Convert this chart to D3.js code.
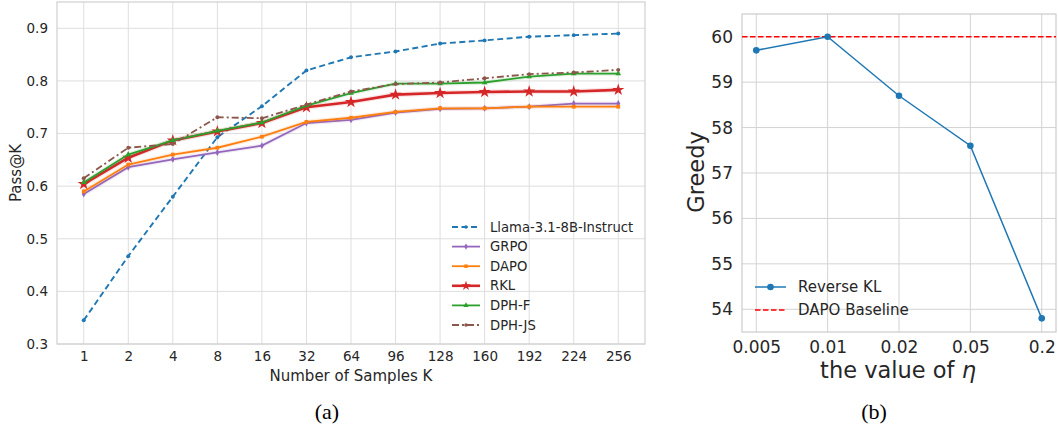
<!DOCTYPE html>
<html>
<head>
<meta charset="utf-8">
<script src="https://cdn.jsdelivr.net/npm/d3@7"></script>
<style>
  body { margin: 0; background: #fff; }
  svg { display: block; font-family: "DejaVu Sans", sans-serif; }
</style>
</head>
<body>
<div id="chart"></div>
<script>
// ---- data, panel (a) ----
var kLabels = ["1", "2", "4", "8", "16", "32", "64", "96", "128", "160", "192", "224", "256"];
var llama  = [0.345, 0.467, 0.580, 0.693, 0.752, 0.820, 0.845, 0.856, 0.871, 0.877, 0.884, 0.887, 0.890];
var grpo   = [0.585, 0.636, 0.651, 0.664, 0.677, 0.720, 0.726, 0.740, 0.747, 0.748, 0.751, 0.757, 0.757];
var dapo   = [0.590, 0.641, 0.660, 0.673, 0.694, 0.722, 0.730, 0.741, 0.748, 0.748, 0.751, 0.751, 0.751];
var rkl    = [0.604, 0.654, 0.687, 0.704, 0.720, 0.750, 0.760, 0.774, 0.777, 0.779, 0.780, 0.780, 0.783];
var dphF   = [0.607, 0.660, 0.687, 0.705, 0.721, 0.753, 0.777, 0.795, 0.795, 0.797, 0.808, 0.814, 0.814];
var dphJS  = [0.615, 0.673, 0.680, 0.731, 0.729, 0.755, 0.780, 0.794, 0.797, 0.805, 0.813, 0.816, 0.821];
var passTicks = [0.3, 0.4, 0.5, 0.6, 0.7, 0.8, 0.9];

// ---- data, panel (b) ----
var etaLabels = ["0.005", "0.01", "0.02", "0.05", "0.2"];
var reverseKL = [59.7, 60.0, 58.7, 57.6, 53.8];
var dapoBaseline = 60;
var greedyTicks = [54, 55, 56, 57, 58, 59, 60];

var textColor = "#262626";

var svg = d3.select("#chart").append("svg")
  .attr("width", 1058)
  .attr("height", 430);

// ================= panel (a) =================
var x = d3.scaleLinear().domain([-0.6, 12.6]).range([57, 645]);
var y = d3.scaleLinear().domain([0.3, 0.95]).range([344, 2]);

var gA = svg.append("g");

// grid
gA.selectAll(".vgrid").data(kLabels).enter().append("line")
  .attr("x1", (d, i) => x(i)).attr("x2", (d, i) => x(i))
  .attr("y1", y.range()[1]).attr("y2", y.range()[0])
  .attr("stroke", "#dedede").attr("stroke-width", 1);
gA.selectAll(".hgrid").data(passTicks).enter().append("line")
  .attr("x1", x.range()[0]).attr("x2", x.range()[1])
  .attr("y1", d => y(d)).attr("y2", d => y(d))
  .attr("stroke", "#dedede").attr("stroke-width", 1);

// frame
gA.append("rect")
  .attr("x", x.range()[0]).attr("y", y.range()[1])
  .attr("width", x.range()[1] - x.range()[0])
  .attr("height", y.range()[0] - y.range()[1])
  .attr("fill", "none").attr("stroke", "#d0d0d0").attr("stroke-width", 1.2);

// axes (ticks as text only)
var xAxisA = d3.axisBottom(x).tickValues(d3.range(kLabels.length))
  .tickFormat(i => kLabels[i]).tickSize(0).tickPadding(7);
gA.append("g").attr("transform", "translate(0," + y.range()[0] + ")")
  .call(xAxisA)
  .call(g => g.select(".domain").remove())
  .call(g => g.selectAll("text").attr("fill", textColor).style("font-size", "13.5px").style("font-family", "DejaVu Sans"));

var yAxisA = d3.axisLeft(y).tickValues(passTicks).tickFormat(d3.format(".1f"))
  .tickSize(0).tickPadding(9);
gA.append("g").attr("transform", "translate(" + x.range()[0] + ",0)")
  .call(yAxisA)
  .call(g => g.select(".domain").remove())
  .call(g => g.selectAll("text").attr("fill", textColor).style("font-size", "13.5px").style("font-family", "DejaVu Sans"));

gA.append("text")
  .attr("x", 351).attr("y", 381)
  .attr("text-anchor", "middle")
  .attr("fill", textColor).style("font-size", "15px")
  .text("Number of Samples K");

gA.append("text")
  .attr("transform", "translate(21,173) rotate(-90)")
  .attr("text-anchor", "middle")
  .attr("fill", textColor).style("font-size", "15px")
  .text("Pass@K");

var seriesA = [
  { name: "Llama-3.1-8B-Instruct", values: llama, color: "#1f77b4", width: 1.9, dash: "6,3.5", symbol: d3.symbolCircle, size: 12, legSize: 10, halo: false },
  { name: "GRPO", values: grpo, color: "#9467bd", width: 1.8, dash: null, symbol: d3.symbolDiamond, size: 14, legSize: 12, halo: true },
  { name: "DAPO", values: dapo, color: "#ff7f0e", width: 1.8, dash: null, symbol: d3.symbolSquare, size: 14, legSize: 12, halo: true },
  { name: "RKL", values: rkl, color: "#d62728", width: 2.6, dash: null, symbol: d3.symbolStar, size: 46, legSize: 30, halo: true },
  { name: "DPH-F", values: dphF, color: "#2ca02c", width: 1.8, dash: null, symbol: d3.symbolTriangle, size: 14, legSize: 12, halo: true },
  { name: "DPH-JS", values: dphJS, color: "#8c564b", width: 1.8, dash: "7,3,2,3", symbol: d3.symbolCircle, size: 12, legSize: 10, halo: false }
];

var lineA = d3.line().x((d, i) => x(i)).y(d => y(d));

seriesA.forEach(function(s) {
  var g = gA.append("g");
  if (s.halo) {
    g.append("path").datum(s.values)
      .attr("d", lineA).attr("fill", "none")
      .attr("stroke", s.color).attr("stroke-opacity", 0.12)
      .attr("stroke-width", s.width + 2.5);
  }
  g.append("path").datum(s.values)
    .attr("d", lineA).attr("fill", "none")
    .attr("stroke", s.color).attr("stroke-width", s.width)
    .attr("stroke-dasharray", s.dash);
  g.selectAll("path.mark").data(s.values).enter().append("path")
    .attr("class", "mark")
    .attr("transform", (d, i) => "translate(" + x(i) + "," + y(d) + ")")
    .attr("d", d3.symbol().type(s.symbol).size(s.size))
    .attr("fill", s.color);
});

// legend (a)
var legA = gA.append("g").attr("transform", "translate(452,227)");
seriesA.forEach(function(s, i) {
  var row = legA.append("g").attr("transform", "translate(0," + (i * 19.6) + ")");
  row.append("line").attr("x1", 0).attr("x2", 28).attr("y1", 0).attr("y2", 0)
    .attr("stroke", s.color).attr("stroke-width", s.width)
    .attr("stroke-dasharray", s.dash);
  row.append("path").attr("transform", "translate(14,0)")
    .attr("d", d3.symbol().type(s.symbol).size(s.legSize)).attr("fill", s.color);
  row.append("text").attr("x", 38).attr("y", 0).attr("dy", "0.35em")
    .attr("fill", textColor).style("font-size", "13.2px")
    .text(s.name);
});

gA.append("text")
  .attr("x", 327).attr("y", 419)
  .attr("text-anchor", "middle")
  .attr("fill", "#000").style("font-size", "22px")
  .style("font-family", "'Liberation Serif', 'Times New Roman', serif")
  .text("(a)");

// ================= panel (b) =================
var x2 = d3.scaleLinear().domain([-0.2, 4.2]).range([742, 1056]);
var y2 = d3.scaleLinear().domain([53.5, 60.5]).range([332, 14]);

var gB = svg.append("g");

gB.selectAll(".vgrid").data(etaLabels).enter().append("line")
  .attr("x1", (d, i) => x2(i)).attr("x2", (d, i) => x2(i))
  .attr("y1", y2.range()[1]).attr("y2", y2.range()[0])
  .attr("stroke", "#d3d3d3").attr("stroke-width", 1);
gB.selectAll(".hgrid").data(greedyTicks).enter().append("line")
  .attr("x1", x2.range()[0]).attr("x2", x2.range()[1])
  .attr("y1", d => y2(d)).attr("y2", d => y2(d))
  .attr("stroke", "#d3d3d3").attr("stroke-width", 1);

gB.append("rect")
  .attr("x", x2.range()[0]).attr("y", y2.range()[1])
  .attr("width", x2.range()[1] - x2.range()[0])
  .attr("height", y2.range()[0] - y2.range()[1])
  .attr("fill", "none").attr("stroke", "#cccccc").attr("stroke-width", 1.2);

var xAxisB = d3.axisBottom(x2).tickValues(d3.range(etaLabels.length))
  .tickFormat(i => etaLabels[i]).tickSize(0).tickPadding(9);
gB.append("g").attr("transform", "translate(0," + y2.range()[0] + ")")
  .call(xAxisB)
  .call(g => g.select(".domain").remove())
  .call(g => g.selectAll("text").attr("fill", textColor).style("font-size", "17px").style("font-family", "DejaVu Sans"));

var yAxisB = d3.axisLeft(y2).tickValues(greedyTicks).tickFormat(d3.format("d"))
  .tickSize(0).tickPadding(9);
gB.append("g").attr("transform", "translate(" + x2.range()[0] + ",0)")
  .call(yAxisB)
  .call(g => g.select(".domain").remove())
  .call(g => g.selectAll("text").attr("fill", textColor).style("font-size", "17px").style("font-family", "DejaVu Sans"));

var xl = gB.append("text")
  .attr("x", 898).attr("y", 378)
  .attr("text-anchor", "middle")
  .attr("fill", textColor).style("font-size", "22.5px");
xl.append("tspan").text("the value of ");
xl.append("tspan").style("font-style", "italic").text("η");

gB.append("text")
  .attr("transform", "translate(704,172) rotate(-90)")
  .attr("text-anchor", "middle")
  .attr("fill", textColor).style("font-size", "22.5px")
  .text("Greedy");

// baseline
gB.append("line")
  .attr("x1", x2.range()[0]).attr("x2", x2.range()[1])
  .attr("y1", y2(dapoBaseline)).attr("y2", y2(dapoBaseline))
  .attr("stroke", "#ff0000").attr("stroke-width", 1.5)
  .attr("stroke-dasharray", "5.5,2.5");

var lineB = d3.line().x((d, i) => x2(i)).y(d => y2(d));
gB.append("path").datum(reverseKL)
  .attr("d", lineB).attr("fill", "none")
  .attr("stroke", "#1f77b4").attr("stroke-width", 1.5);
gB.selectAll("circle.pt").data(reverseKL).enter().append("circle")
  .attr("class", "pt")
  .attr("cx", (d, i) => x2(i)).attr("cy", d => y2(d))
  .attr("r", 3.3).attr("fill", "#1f77b4");

// legend (b)
var legB = gB.append("g").attr("transform", "translate(755,287)");
legB.append("line").attr("x1", 0).attr("x2", 31).attr("y1", 0).attr("y2", 0)
  .attr("stroke", "#1f77b4").attr("stroke-width", 1.5);
legB.append("circle").attr("cx", 15.5).attr("cy", 0).attr("r", 3.3).attr("fill", "#1f77b4");
legB.append("text").attr("x", 43).attr("y", 0).attr("dy", "0.35em")
  .attr("fill", textColor).style("font-size", "15px").text("Reverse KL");
legB.append("line").attr("x1", 0).attr("x2", 31).attr("y1", 23).attr("y2", 23)
  .attr("stroke", "#ff0000").attr("stroke-width", 1.5).attr("stroke-dasharray", "5.5,2.5");
legB.append("text").attr("x", 43).attr("y", 23).attr("dy", "0.35em")
  .attr("fill", textColor).style("font-size", "15px").text("DAPO Baseline");

gB.append("text")
  .attr("x", 874).attr("y", 419)
  .attr("text-anchor", "middle")
  .attr("fill", "#000").style("font-size", "22px")
  .style("font-family", "'Liberation Serif', 'Times New Roman', serif")
  .text("(b)");
</script>
</body>
</html>
